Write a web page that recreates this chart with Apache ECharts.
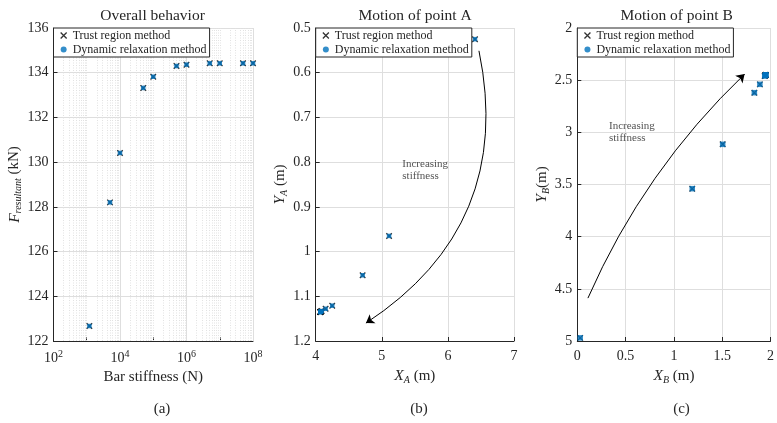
<!DOCTYPE html>
<html><head><meta charset="utf-8">
<script src="https://cdn.jsdelivr.net/npm/echarts@6/dist/echarts.min.js"></script>
<style>html,body{margin:0;padding:0;background:#fff}#c{width:777px;height:423px}</style>
</head><body><div id="c"></div>
<script>
// ---- data ----
const stiffness = [1200, 5000, 1e4, 5e4, 1e5, 5e5, 1e6, 5e6, 1e7, 5e7, 1e8];
const F_trust = [122.67, 128.2, 130.41, 133.32, 133.82, 134.30, 134.36, 134.42, 134.42, 134.42, 134.42];
const F_dr    = [122.67, 128.2, 130.41, 133.32, 133.82, 134.30, 134.36, 134.42, 134.42, 134.42, 134.42];
const XA_trust = [6.41, 5.11, 4.71, 4.25, 4.15, 4.09, 4.08, 4.07, 4.07, 4.07, 4.07];
const YA_trust = [0.525, 0.965, 1.053, 1.121, 1.128, 1.133, 1.134, 1.135, 1.135, 1.135, 1.135];
const XA_dr = [6.41, 5.11, 4.71, 4.25, 4.15, 4.09, 4.08, 4.07, 4.07, 4.07, 4.07];
const YA_dr = [0.525, 0.965, 1.053, 1.121, 1.128, 1.133, 1.134, 1.135, 1.135, 1.135, 1.135];
const XB_trust = [0.03, 1.19, 1.505, 1.833, 1.89, 1.94, 1.945, 1.95, 1.95, 1.95, 1.95];
const YB_trust = [4.97, 3.54, 3.115, 2.62, 2.54, 2.46, 2.455, 2.45, 2.45, 2.45, 2.45];
const XB_dr = [0.03, 1.19, 1.505, 1.833, 1.89, 1.94, 1.945, 1.95, 1.95, 1.95, 1.95];
const YB_dr = [4.97, 3.54, 3.115, 2.62, 2.54, 2.46, 2.455, 2.45, 2.45, 2.45, 2.45];
const titles = ['Overall behavior', 'Motion of point A', 'Motion of point B'];
const panelLabels = ['(a)', '(b)', '(c)'];
const legendNames = ['Trust region method', 'Dynamic relaxation method'];
// annotation arrows (data coordinates: start, end) and their bend
const arrowA = [[6.47, 0.551], [4.76, 1.160]];
const arrowB = [[0.110, 4.589], [1.732, 2.442]];
const bendA = 0.34;
const bendB = 0.10;
const noteA = [5.31, 0.818];
const noteB = [0.328, 2.997];

// ---- style ----
const FONT = 'Liberation Serif';
const DARK = '#262626';
const BLUE = '#0072BD';
const GRID = '#dedede';
const MINOR = '#e2e2e2';
const XPATH = 'path://M0,0L10,10M10,0L0,10';

const zip = (a, b) => a.map((v, i) => [v, b[i]]);

const grids = [
  {left: 53.5, top: 28, width: 199.5, height: 313},
  {left: 315.7, top: 28, width: 198.3, height: 313},
  {left: 577.3, top: 28, width: 199.5, height: 313}
];

const axisCommon = {
  axisLine: {show: true, onZero: false, lineStyle: {color: DARK, width: 1}},
  axisTick: {show: true, inside: true, length: 4, lineStyle: {color: DARK}},
  axisLabel: {color: DARK, fontFamily: FONT, fontSize: 14},
  splitLine: {show: true, lineStyle: {color: GRID, width: 1}},
  nameLocation: 'middle',
  nameTextStyle: {color: DARK, fontFamily: FONT, fontSize: 15,
    rich: {
      i: {fontFamily: FONT, fontStyle: 'italic', fontSize: 15.5, color: DARK},
      s: {fontFamily: FONT, fontStyle: 'italic', fontSize: 10, color: DARK, verticalAlign: 'bottom', padding: [8,0,0,0]},
      n: {fontFamily: FONT, fontSize: 15, color: DARK}
    }}
};

// minor grid lines for the log axis
const minorVals = [];
const majorVals = [1e4, 1e6];
for (let e = 2; e < 8; e++) for (let m = 1; m < 10; m++) {
  const v = m * Math.pow(10, e);
  if (m === 1 && (e % 2 === 0)) continue;
  minorVals.push(v);
}

const xAxes = [
  Object.assign({}, axisCommon, {gridIndex: 0, type: 'log', logBase: 10, min: 100, max: 1e8,
    name: 'Bar stiffness (N)', nameGap: 23,
    splitLine: {show: false},
    axisLabel: Object.assign({}, axisCommon.axisLabel, {margin: 8,
      formatter: v => { const e = Math.round(Math.log10(v)); return e % 2 === 0 ? '10{sup|' + e + '}' : ''; },
      rich: {sup: {fontFamily: FONT, fontSize: 10, color: DARK, verticalAlign: 'top', padding: [0,0,8,0]}}})
  }),
  Object.assign({}, axisCommon, {gridIndex: 1, type: 'value', min: 4, max: 7, interval: 1,
    name: '{i|X}{s|A} {n|(m)}', nameGap: 21, axisLabel: Object.assign({}, axisCommon.axisLabel, {margin: 8})}),
  Object.assign({}, axisCommon, {gridIndex: 2, type: 'value', min: 0, max: 2, interval: 0.5,
    name: '{i|X}{s|B} {n|(m)}', nameGap: 21, axisLabel: Object.assign({}, axisCommon.axisLabel, {margin: 8})})
];
const yAxes = [
  Object.assign({}, axisCommon, {gridIndex: 0, type: 'value', min: 122, max: 136, interval: 2,
    name: '{i|F}{s|resultant} {n|(kN)}', nameGap: 30, nameRotate: 90, axisLabel: Object.assign({}, axisCommon.axisLabel, {margin: 5})}),
  Object.assign({}, axisCommon, {gridIndex: 1, type: 'value', min: 0.5, max: 1.2, interval: 0.1, inverse: true,
    name: '{i|Y}{s|A} {n|(m)}', nameGap: 25, nameRotate: 90, axisLabel: Object.assign({}, axisCommon.axisLabel, {margin: 5})}),
  Object.assign({}, axisCommon, {gridIndex: 2, type: 'value', min: 2, max: 5, interval: 0.5, inverse: true,
    name: '{i|Y}{s|B}{n|(m)}', nameGap: 24, nameRotate: 90, axisLabel: Object.assign({}, axisCommon.axisLabel, {margin: 5})})
];

function trust(i, x, y) {
  return {name: legendNames[0], type: 'scatter', xAxisIndex: i, yAxisIndex: i, data: zip(x, y),
    symbol: XPATH, symbolSize: 5.5, z: 3,
    itemStyle: {color: 'rgba(0,0,0,0)', borderColor: '#000', borderWidth: 1.3}};
}
function dr(i, x, y, size) {
  return {name: legendNames[1], type: 'scatter', xAxisIndex: i, yAxisIndex: i, data: zip(x, y),
    symbol: 'rect', symbolSize: size, z: 4, itemStyle: {color: BLUE}};
}
function arrow(i, pts, bend) {
  return {type: 'lines', coordinateSystem: 'cartesian2d', xAxisIndex: i, yAxisIndex: i, silent: true, z: 2,
    symbol: ['none', 'arrow'], symbolSize: [0, 8],
    lineStyle: {color: '#000', width: 1, opacity: 1, curveness: bend},
    data: [{coords: pts}]};
}
function note(i, p) {
  return {type: 'scatter', xAxisIndex: i, yAxisIndex: i, data: [p], symbolSize: 0, silent: true,
    label: {show: true, position: [0, 0], align: 'left', verticalAlign: 'middle',
      formatter: 'Increasing\nstiffness', fontFamily: FONT, fontSize: 11, lineHeight: 11.5, color: DARK}};
}

const gridMarks = {type: 'scatter', xAxisIndex: 0, yAxisIndex: 0, data: [], silent: true, z: 1,
  markLine: {silent: true, symbol: 'none', animation: false, label: {show: false}, z: 1,
    data: minorVals.map(v => ({xAxis: v, lineStyle: {color: MINOR, type: [1, 1.5], width: 1}}))
      .concat(majorVals.map(v => ({xAxis: v, lineStyle: {color: GRID, type: 'solid', width: 1}})))
      .concat([{xAxis: 1e8, lineStyle: {color: GRID, type: 'solid', width: 1}}])}};

const series = [
  gridMarks,
  trust(0, stiffness, F_trust), dr(0, stiffness, F_dr, 4.5),
  trust(1, XA_trust, YA_trust), dr(1, XA_dr, YA_dr, 4.5),
  trust(2, XB_trust, YB_trust), dr(2, XB_dr, YB_dr, 5.5),
  arrow(1, arrowA, bendA), arrow(2, arrowB, bendB),
  note(1, noteA), note(2, noteB)
];

const legends = grids.map((g, k) => ({
  left: g.left, top: 28, orient: 'vertical', itemGap: 0, padding: [0.5, 3, 0.5, 6.5], z: 20,
  borderColor: DARK, borderWidth: 1, backgroundColor: '#fff', itemWidth: 6, itemHeight: 6,
  itemStyle: {borderWidth: 0},
  textStyle: {fontFamily: FONT, fontSize: 12, color: DARK, lineHeight: 14, padding: [0, 0, 0, 1]},
  data: [
    {name: legendNames[0], icon: XPATH, itemStyle: {color: 'rgba(0,0,0,0)', borderColor: '#000', borderWidth: 1.3}},
    {name: legendNames[1], icon: 'circle', itemStyle: {color: BLUE, borderWidth: 0}}
  ],
  selectedMode: false
}));

const graphic = [];
titles.forEach((t, k) => graphic.push({type: 'text', x: [152.5, 415, 676.7][k], y: 16,
  style: {text: t, fontFamily: FONT, fontSize: 15.5, fill: DARK, align: 'center', verticalAlign: 'middle'}}));
panelLabels.forEach((t, k) => graphic.push({type: 'text', x: [162, 419, 681.5][k], y: 409,
  style: {text: t, fontFamily: FONT, fontSize: 15, fill: DARK, align: 'center', verticalAlign: 'middle'}}));

const chart = echarts.init(document.getElementById('c'), null, {renderer: 'canvas'});
chart.setOption({
  animation: false,
  backgroundColor: '#fff',
  grid: grids,
  xAxis: xAxes,
  yAxis: yAxes,
  legend: legends,
  series: series,
  graphic: graphic
});
</script></body></html>
